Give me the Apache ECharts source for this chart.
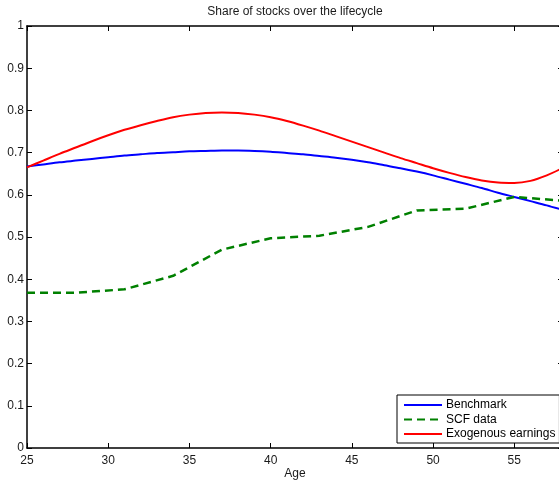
<!DOCTYPE html>
<html>
<head>
<meta charset="utf-8">
<script src="https://cdn.jsdelivr.net/npm/echarts@6/dist/echarts.min.js"></script>
<style>
  html, body { margin: 0; padding: 0; background: #fff; }
  #chart { width: 559px; height: 481px; }
</style>
</head>
<body>
<div id="chart"></div>
<script>
// Model ages (one point per year) and the simulated stock shares
const modelAges = [25,26,27,28,29,30,31,32,33,34,35,36,37,38,39,40,41,42,43,44,45,46,47,48,49,50,51,52,53,54,55,56,57,58];
const benchmark = [0.667,0.672,0.677,0.681,0.685,0.689,0.693,0.696,0.699,0.701,0.703,0.704,0.705,0.705,0.704,0.702,0.699,0.696,0.692,0.688,0.683,0.677,0.670,0.663,0.655,0.646,0.636,0.626,0.616,0.605,0.595,0.585,0.575,0.564];
const exogenous = [0.665,0.681,0.697,0.712,0.727,0.741,0.754,0.765,0.775,0.784,0.790,0.794,0.795,0.794,0.790,0.784,0.775,0.764,0.752,0.739,0.726,0.713,0.700,0.687,0.675,0.663,0.652,0.642,0.634,0.629,0.628,0.633,0.646,0.664];

// Survey of Consumer Finances observations
const scfAges = [25,28,31,34,37,40,43,46,49,52,55,58];
const scfData = [0.368,0.368,0.376,0.408,0.470,0.497,0.503,0.524,0.563,0.567,0.595,0.586];

// Axis ranges and ticks
const xMin = 25, xMax = 58, xStep = 5;
const yMin = 0, yMax = 1, yStep = 0.1;

const pairs = (xs, ys) => xs.map((x, i) => [x, ys[i]]);

const FONT = 'Liberation Sans, Arial, Helvetica, sans-serif';
const INK = '#1a1a1a';

const chart = echarts.init(document.getElementById('chart'), null, { renderer: 'canvas' });

const frameLine = { show: true, onZero: false, lineStyle: { color: '#000', width: 1.5 } };
const innerTick = { show: true, inside: true, length: 5, lineStyle: { color: '#000', width: 1 } };

chart.setOption({
  animation: false,
  backgroundColor: '#fff',
  title: {
    text: 'Share of stocks over the lifecycle',
    left: 295, top: 6, textAlign: 'center', padding: 0,
    textStyle: { fontFamily: FONT, fontSize: 12, fontWeight: 'normal', color: INK }
  },
  grid: { left: 27, top: 26, width: 536, height: 422, containLabel: false, outerBoundsMode: 'none' },
  legend: {
    orient: 'vertical',
    left: 397, top: 395,
    padding: [4, 4, 3, 6],
    itemWidth: 38, itemHeight: 12, itemGap: 2.5,
    backgroundColor: '#fff',
    borderColor: '#000', borderWidth: 1,
    itemStyle: { opacity: 0 },
    textStyle: { fontFamily: FONT, fontSize: 12, color: '#000', padding: [0, 0, 0, -1] },
    data: ['Benchmark', 'SCF data', 'Exogenous earnings']
  },
  xAxis: [
    {
      type: 'value', min: xMin, max: xMax, interval: xStep,
      name: 'Age', nameLocation: 'middle', nameGap: 20, nameMoveOverlap: false,
      nameTextStyle: { fontFamily: FONT, fontSize: 12, color: INK },
      axisLine: frameLine, axisTick: innerTick,
      axisLabel: {
        fontFamily: FONT, fontSize: 12, color: INK, margin: 7,
        showMaxLabel: false,
        formatter: v => (v % xStep === 0 ? String(v) : '')
      },
      splitLine: { show: false }
    },
    {
      type: 'value', position: 'top', min: xMin, max: xMax, interval: xStep,
      axisLine: frameLine, axisTick: innerTick,
      axisLabel: { show: false }, splitLine: { show: false }
    }
  ],
  yAxis: [
    {
      type: 'value', min: yMin, max: yMax, interval: yStep,
      axisLine: frameLine, axisTick: innerTick,
      axisLabel: {
        fontFamily: FONT, fontSize: 12, color: INK, margin: 3,
        formatter: v => String(Math.round(v * 10) / 10)
      },
      splitLine: { show: false }
    },
    {
      type: 'value', position: 'right', min: yMin, max: yMax, interval: yStep,
      axisLine: frameLine, axisTick: innerTick,
      axisLabel: { show: false }, splitLine: { show: false }
    }
  ],
  series: [
    {
      name: 'Benchmark', type: 'line', xAxisIndex: 0, yAxisIndex: 0,
      data: pairs(modelAges, benchmark),
      smooth: 0.3, symbol: 'none', clip: true,
      lineStyle: { color: '#0000ff', width: 2 },
      itemStyle: { color: '#0000ff' }
    },
    {
      name: 'SCF data', type: 'line', xAxisIndex: 0, yAxisIndex: 0,
      data: pairs(scfAges, scfData),
      smooth: false, symbol: 'none', clip: true,
      lineStyle: { color: '#008000', width: 2.5, type: [8, 5] },
      itemStyle: { color: '#008000' }
    },
    {
      name: 'Exogenous earnings', type: 'line', xAxisIndex: 0, yAxisIndex: 0,
      data: pairs(modelAges, exogenous),
      smooth: 0.3, symbol: 'none', clip: true,
      lineStyle: { color: '#ff0000', width: 2 },
      itemStyle: { color: '#ff0000' }
    }
  ]
});
</script>
</body>
</html>
